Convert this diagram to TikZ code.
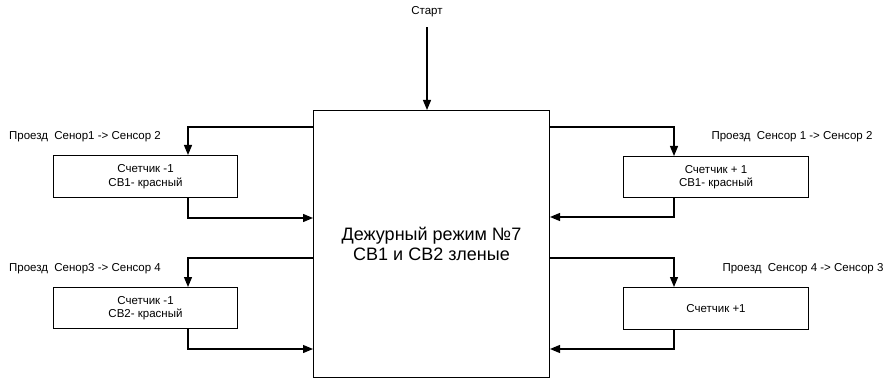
\documentclass[tikz,border=0pt]{standalone}
\usepackage{fontspec}
\setmainfont{Liberation Sans}
\usetikzlibrary{arrows.meta,calc}
\begin{document}
\begin{tikzpicture}[x=1pt,y=-1pt,
  sm/.style={font=\fontsize{11.5}{13}\selectfont, inner sep=0pt, align=center},
  sbox/.style={draw, line width=1pt, inner sep=0pt, anchor=north west, align=center, font=\fontsize{11.5}{13.5}\selectfont},
  mbox/.style={draw, line width=1pt, inner sep=0pt, anchor=north west, align=center, font=\fontsize{18}{20}\selectfont},
  arr/.style={line width=1.2pt, -{Triangle[length=10pt,width=8pt]}}]
\useasboundingbox (0,0) rectangle (896,379);
\node[mbox, minimum width=236pt, minimum height=267pt] (main) at (313,110) {Дежурный режим №7\\СВ1 и СВ2 зленые};
\node[sbox, minimum width=184pt, minimum height=42pt] (b1) at (53,155) {Счетчик -1\\СВ1- красный};
\node[sbox, minimum width=185pt, minimum height=41pt] (b2) at (623,156) {Счетчик + 1\\СВ1- красный};
\node[sbox, minimum width=184pt, minimum height=41pt] (b3) at (53,287) {Счетчик -1\\СВ2- красный};
\node[sbox, minimum width=185pt, minimum height=42pt] (b4) at (623,287) {Счетчик +1};
\node[sm] (start) at (427,12) {Старт};
\node[sm] (l1) at (85,137) {Проезд\ \ Сенор1 -> Сенсор 2};
\node[sm] (l2) at (792,137) {Проезд\ \ Сенсор 1 -> Сенсор 2};
\node[sm] (l3) at (85,269) {Проезд\ \ Сенор3 -> Сенсор 4};
\node[sm] (l4) at (803,269) {Проезд\ \ Сенсор 4 -> Сенсор 3};
\draw[arr] ($(start.south)+(0,10)$) -- (start.south |- main.north);
\draw[arr] ($(main.north west)+(0,17)$) -| ($(b1.north west)+(135,0)$);
\draw[arr] ($(b1.south west)+(135,0)$) |- ($(main.north west)+(0,108)$);
\draw[arr] ($(main.north west)+(0,148)$) -| ($(b3.north west)+(135,0)$);
\draw[arr] ($(b3.south west)+(135,0)$) |- ($(main.north west)+(0,239)$);
\draw[arr] ($(main.north east)+(0,17)$) -| ($(b2.north west)+(51,0)$);
\draw[arr] ($(b2.south west)+(51,0)$) |- ($(main.north east)+(0,107)$);
\draw[arr] ($(main.north east)+(0,148)$) -| ($(b4.north west)+(51,0)$);
\draw[arr] ($(b4.south west)+(51,0)$) |- ($(main.north east)+(0,239)$);
\end{tikzpicture}
\end{document}
